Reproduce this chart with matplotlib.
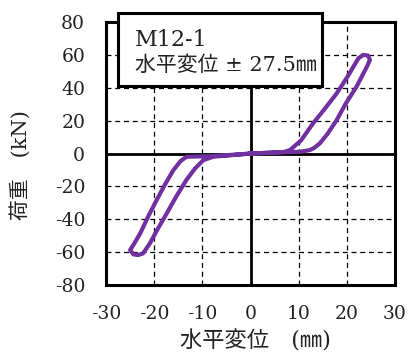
import matplotlib
matplotlib.use('Agg')
import matplotlib.pyplot as plt
from matplotlib.patches import Rectangle

# 荷重-変位ループ (読み取り値)
disp = [0.0, 4.0, 7.0, 8.2, 10.5, 13.0, 15.5, 17.9, 20.2, 22.4, 23.4, 24.4, 24.8,
        24.2, 22.0, 19.8, 17.9, 16.0, 14.4, 13.2, 12.3, 10.3, 7.0, 3.0, 0.0,
        -4.0, -7.7, -9.8, -11.5, -13.3, -15.4, -17.4, -19.2, -20.9, -22.3, -23.3,
        -24.3, -25.0, -24.2, -22.9, -21.2, -19.5, -17.7, -16.0, -14.5, -13.3,
        -11.5, -8.0, -4.0, 0.0]
load = [0.0, 0.5, 1.0, 2.1, 8.0, 18.4, 27.5, 36.6, 47.0, 57.9, 60.0, 59.6, 56.9,
        53.0, 40.6, 30.5, 20.4, 12.0, 6.2, 3.4, 2.1, 1.1, 0.8, 0.4, 0.0,
        -1.0, -1.9, -4.0, -9.0, -16.0, -26.0, -36.4, -45.5, -54.6, -60.7, -61.7,
        -61.3, -58.7, -55.0, -48.5, -38.0, -28.3, -18.5, -10.0, -4.5, -2.0,
        -1.8, -1.6, -0.8, 0.0]

xticks = [-30, -20, -10, 0, 10, 20, 30]
yticks = [-80, -60, -40, -20, 0, 20, 40, 60, 80]

plt.rcParams['font.family'] = ['DejaVu Serif', 'Noto Sans CJK JP']
plt.rcParams['axes.unicode_minus'] = False

fig = plt.figure(figsize=(4.11, 3.52), dpi=100)
ax = fig.add_axes([0.258, 0.190, 0.703, 0.7475])

ax.plot(disp, load, color='#7030A0', lw=3, solid_joinstyle='round', zorder=4)

ax.set_xlim(-30, 30)
ax.set_ylim(-80, 80)
ax.set_xticks(xticks)
ax.set_yticks(yticks)
ax.tick_params(length=0, labelsize=13.5, colors='#222222')
ax.tick_params(axis='x', pad=14)
ax.tick_params(axis='y', pad=15)
ax.grid(True, color='black', lw=0.9, ls=(0, (4, 3)))
ax.axhline(0, color='black', lw=2, zorder=3)
ax.axvline(0, color='black', lw=2, zorder=3)
for s in ax.spines.values():
    s.set_linewidth(2.2)

# 凡例ボックス
box = Rectangle((0.0415, 0.757), 0.7055, 0.277, transform=ax.transAxes,
                facecolor='white', edgecolor='black', lw=2.2, clip_on=False, zorder=6)
ax.add_patch(box)
ax.text(0.10, 0.93, 'M12-1', transform=ax.transAxes, fontsize=16,
        ha='left', va='center', zorder=7, color='#222222')
t = ax.text(0.10, 0.835, '水平変位 ± 27.5㎜', transform=ax.transAxes, fontsize=15,
            ha='left', va='center', zorder=7, color='#222222')
t.set_clip_path(box)

fig.text(20 / 411, 1 - 165 / 352, '荷重\u3000(kN)', rotation=90, fontsize=15,
         ha='center', va='center', color='#222222')
fig.text(255 / 411, 1 - 341 / 352, '水平変位\u3000(㎜)', fontsize=16,
         ha='center', va='center', color='#222222')

fig.savefig('out.png', dpi=100)
